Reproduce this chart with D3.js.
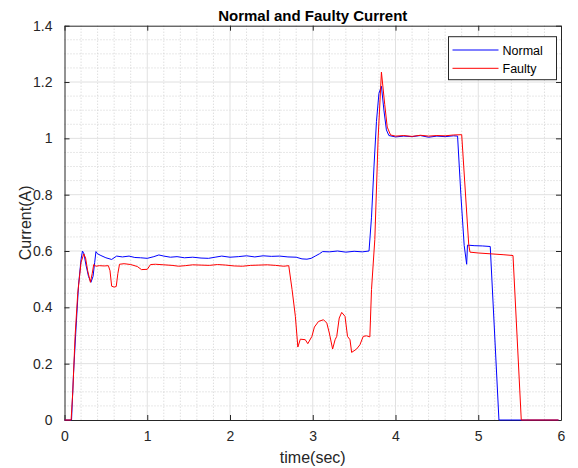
<!DOCTYPE html>
<html>
<head>
<meta charset="utf-8">
<script src="https://cdn.jsdelivr.net/npm/d3@7"></script>
<style>
  html, body { margin: 0; padding: 0; background: #fff; }
  svg { display: block; font-family: "Liberation Sans", Arial, Helvetica, sans-serif; }
</style>
</head>
<body>
<svg id="chart" width="578" height="468"></svg>
<script>
// Measured current traces (time in seconds, current in amperes)
const normalT = [0, 0.085, 0.11, 0.14, 0.17, 0.2, 0.217, 0.235, 0.26, 0.29,
  0.32, 0.345, 0.365, 0.38, 0.4, 0.44, 0.5, 0.57, 0.63, 0.7,
  0.78, 0.85, 0.92, 1.0, 1.08, 1.14, 1.2, 1.28, 1.36, 1.45,
  1.55, 1.65, 1.74, 1.82, 1.9, 2.0, 2.1, 2.2, 2.3, 2.4,
  2.5, 2.6, 2.7, 2.8, 2.87, 2.93, 2.98, 3.03, 3.08, 3.12,
  3.2, 3.3, 3.4, 3.5, 3.6, 3.68, 3.71, 3.74, 3.77, 3.8,
  3.83, 3.86, 3.89, 3.92, 4.0, 4.1, 4.2, 4.3, 4.4, 4.5,
  4.6, 4.7, 4.75, 4.79, 4.83, 4.86, 4.87, 4.95, 5.05, 5.145,
  5.25, 5.97];
const normalI = [0, 0, 0.17, 0.33, 0.48, 0.57, 0.6, 0.59, 0.55, 0.51,
  0.489, 0.51, 0.56, 0.598, 0.59, 0.584, 0.576, 0.57, 0.582, 0.579,
  0.582, 0.577, 0.576, 0.574, 0.58, 0.586, 0.582, 0.578, 0.58, 0.576,
  0.578, 0.575, 0.574, 0.578, 0.582, 0.578, 0.58, 0.583, 0.579, 0.583,
  0.581, 0.582, 0.579, 0.578, 0.572, 0.571, 0.574, 0.582, 0.59, 0.598,
  0.597, 0.6, 0.596, 0.599, 0.597, 0.6, 0.72, 0.9, 1.06, 1.16,
  1.185, 1.1, 1.03, 1.01, 1.005, 1.008, 1.006, 1.01, 1.004, 1.008,
  1.006, 1.009, 1.008, 0.8, 0.62, 0.553, 0.621, 0.619, 0.618, 0.616,
  0, 0];

const faultyT = [0, 0.08, 0.1, 0.128, 0.16, 0.2, 0.233, 0.255, 0.28, 0.313,
  0.335, 0.353, 0.38, 0.42, 0.48, 0.53, 0.55, 0.57, 0.6, 0.625,
  0.645, 0.665, 0.72, 0.8, 0.88, 0.93, 1.0, 1.04, 1.1, 1.2,
  1.3, 1.38, 1.46, 1.55, 1.65, 1.75, 1.85, 1.95, 2.05, 2.15,
  2.25, 2.35, 2.45, 2.55, 2.65, 2.71, 2.75, 2.79, 2.82, 2.85,
  2.91, 2.94, 2.99, 3.02, 3.07, 3.13, 3.17, 3.2, 3.24, 3.27,
  3.29, 3.32, 3.35, 3.39, 3.42, 3.45, 3.47, 3.53, 3.57, 3.61,
  3.65, 3.69, 3.71, 3.75, 3.79, 3.83, 3.87, 3.9, 3.94, 4.0,
  4.1, 4.2, 4.3, 4.4, 4.5, 4.6, 4.7, 4.8, 4.885, 4.9,
  5.0, 5.15, 5.3, 5.42, 5.52, 5.97];
const faultyI = [0, 0, 0.1, 0.297, 0.45, 0.56, 0.59, 0.575, 0.53, 0.489,
  0.52, 0.552, 0.546, 0.548, 0.547, 0.548, 0.53, 0.475, 0.472, 0.474,
  0.52, 0.553, 0.555, 0.552, 0.545, 0.534, 0.535, 0.552, 0.553, 0.551,
  0.549, 0.546, 0.548, 0.551, 0.55, 0.549, 0.552, 0.55, 0.547, 0.546,
  0.549, 0.55, 0.551, 0.549, 0.546, 0.548, 0.463, 0.368, 0.259, 0.287,
  0.285, 0.271, 0.297, 0.33, 0.35, 0.356, 0.344, 0.309, 0.252, 0.285,
  0.297, 0.362, 0.382, 0.368, 0.297, 0.285, 0.24, 0.252, 0.267, 0.297,
  0.299, 0.295, 0.463, 0.641, 1.0, 1.235, 1.12, 1.04, 1.012, 1.008,
  1.01, 1.007, 1.011, 1.008, 1.01, 1.009, 1.012, 1.013, 0.623, 0.596,
  0.593, 0.59, 0.587, 0.584, 0, 0];

const seriesNames = ["Normal", "Faulty"];
const seriesColors = ["#0000ff", "#ff0000"];
const xTicks = [0, 1, 2, 3, 4, 5, 6];
const yTicks = [0, 0.2, 0.4, 0.6, 0.8, 1, 1.2, 1.4];

const plot = { left: 64.5, right: 561, top: 25.7, bottom: 420 };
const axisColor = "#262626";

const svg = d3.select("#chart");
const x = d3.scaleLinear().domain([0, 6]).range([plot.left, plot.right]);
const y = d3.scaleLinear().domain([0, 1.4]).range([plot.bottom, plot.top]);

// Minor grid (dotted)
const grid = svg.append("g");
grid.selectAll("line.mx").data(d3.range(0, 6.001, 0.2).filter(v => Math.abs(v - Math.round(v)) > 1e-6))
  .join("line").attr("class", "mx")
  .attr("x1", d => x(d)).attr("x2", d => x(d))
  .attr("y1", plot.top).attr("y2", plot.bottom)
  .attr("stroke", "#d0d0d0").attr("stroke-width", 1).attr("stroke-dasharray", "1,2");
grid.selectAll("line.my").data(d3.range(0, 1.4001, 0.05).filter(v => Math.abs(v / 0.2 - Math.round(v / 0.2)) > 1e-6))
  .join("line").attr("class", "my")
  .attr("x1", plot.left).attr("x2", plot.right)
  .attr("y1", d => y(d)).attr("y2", d => y(d))
  .attr("stroke", "#d0d0d0").attr("stroke-width", 1).attr("stroke-dasharray", "1,2");
// Major grid (solid)
grid.selectAll("line.Mx").data(xTicks.slice(1, -1)).join("line").attr("class", "Mx")
  .attr("x1", d => x(d)).attr("x2", d => x(d))
  .attr("y1", plot.top).attr("y2", plot.bottom)
  .attr("stroke", "#e1e1e1").attr("stroke-width", 1);
grid.selectAll("line.My").data(yTicks.slice(1, -1)).join("line").attr("class", "My")
  .attr("x1", plot.left).attr("x2", plot.right)
  .attr("y1", d => y(d)).attr("y2", d => y(d))
  .attr("stroke", "#e1e1e1").attr("stroke-width", 1);

// Axes with inward ticks on all four sides
const tickFmt = d3.format("~g");
const xAxisB = d3.axisBottom(x).tickValues(xTicks).tickFormat(tickFmt).tickSizeInner(-5).tickSizeOuter(0).tickPadding(11);
const xAxisT = d3.axisTop(x).tickValues(xTicks).tickFormat("").tickSizeInner(-5).tickSizeOuter(0);
const yAxisL = d3.axisLeft(y).tickValues(yTicks).tickFormat(tickFmt).tickSizeInner(-5).tickSizeOuter(0).tickPadding(12);
const yAxisR = d3.axisRight(y).tickValues(yTicks).tickFormat("").tickSizeInner(-5).tickSizeOuter(0);

function styleAxis(g) {
  g.select(".domain").attr("stroke", axisColor);
  g.selectAll(".tick line").attr("stroke", axisColor);
  g.selectAll(".tick text").attr("fill", axisColor).style("font-size", "14px")
    .style("font-family", "\"Liberation Sans\", Arial, sans-serif");
}
svg.append("g").attr("transform", `translate(0,${plot.bottom})`).call(xAxisB).call(styleAxis);
svg.append("g").attr("transform", `translate(0,${plot.top})`).call(xAxisT).call(styleAxis);
svg.append("g").attr("transform", `translate(${plot.left},0)`).call(yAxisL).call(styleAxis);
svg.append("g").attr("transform", `translate(${plot.right},0)`).call(yAxisR).call(styleAxis);

// Traces, drawn over the axis box
svg.append("clipPath").attr("id", "clip").append("rect")
  .attr("x", plot.left - 2).attr("y", plot.top - 2)
  .attr("width", plot.right - plot.left + 4).attr("height", plot.bottom - plot.top + 4);

const line = d3.line().x(d => x(d[0])).y(d => y(d[1]));
const series = [
  d3.zip(normalT, normalI),
  d3.zip(faultyT, faultyI)
];
svg.append("g").attr("clip-path", "url(#clip)")
  .selectAll("path").data(series).join("path")
  .attr("d", line)
  .attr("fill", "none")
  .attr("stroke", (d, i) => seriesColors[i])
  .attr("stroke-width", 1)
  .attr("stroke-linejoin", "round");

// Title and axis labels
svg.append("text")
  .attr("x", (plot.left + plot.right) / 2).attr("y", 20.7)
  .attr("text-anchor", "middle").attr("font-weight", "bold")
  .attr("font-size", 15).attr("fill", "#000")
  .text("Normal and Faulty Current");
svg.append("text")
  .attr("x", (plot.left + plot.right) / 2).attr("y", 463)
  .attr("text-anchor", "middle").attr("font-size", 16).attr("fill", axisColor)
  .text("time(sec)");
svg.append("text")
  .attr("transform", `translate(31,${(plot.top + plot.bottom) / 2}) rotate(-90)`)
  .attr("text-anchor", "middle").attr("font-size", 16).attr("fill", axisColor)
  .text("Current(A)");

// Legend
const lg = svg.append("g").attr("transform", "translate(448.5,36.7)");
lg.append("rect").attr("width", 108).attr("height", 43)
  .attr("fill", "#fff").attr("stroke", axisColor).attr("stroke-width", 1);
seriesNames.forEach((name, i) => {
  const yy = 13.3 + i * 18.3;
  lg.append("line").attr("x1", 4).attr("x2", 50).attr("y1", yy).attr("y2", yy)
    .attr("stroke", seriesColors[i]).attr("stroke-width", 1);
  lg.append("text").attr("x", 54).attr("y", yy + 4.6)
    .attr("font-size", 12.5).attr("fill", "#000").text(name);
});
</script>
</body>
</html>
